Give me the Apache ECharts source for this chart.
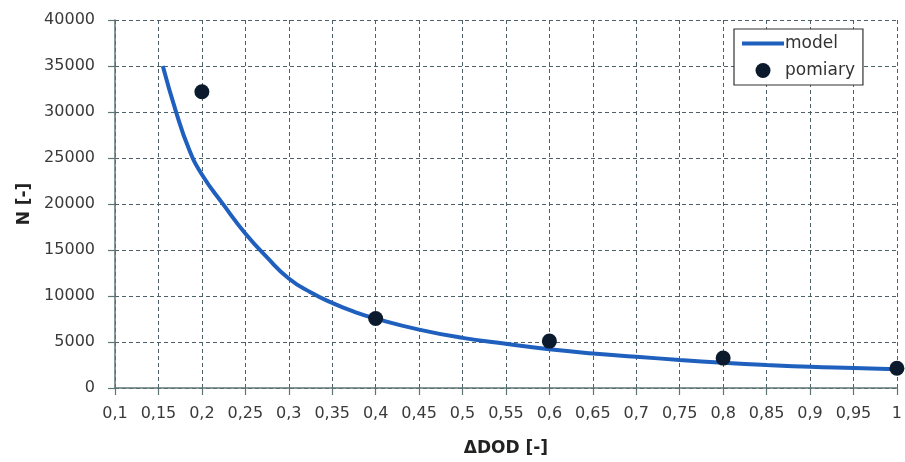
<!DOCTYPE html>
<html>
<head>
<meta charset="utf-8">
<script src="https://cdn.jsdelivr.net/npm/echarts@6/dist/echarts.min.js"></script>
<style>
  html, body { margin: 0; padding: 0; background: #fff; }
  #chart { width: 905px; height: 462px; }
</style>
</head>
<body>
<div id="chart"></div>
<script>
// Model curve (ΔDOD, N)
const modelX = [0.155, 0.17, 0.185, 0.2, 0.225, 0.25, 0.275, 0.3, 0.325, 0.35, 0.375, 0.4, 0.45, 0.5, 0.55, 0.6, 0.65, 0.7, 0.75, 0.8, 0.85, 0.9, 0.95, 1.0];
const modelN = [35000, 30100, 26000, 23200, 19900, 16800, 14200, 11900, 10400, 9250, 8300, 7550, 6350, 5450, 4800, 4200, 3750, 3400, 3050, 2750, 2500, 2300, 2180, 2050];
// Measurements
const measX = [0.2, 0.4, 0.6, 0.8, 1.0];
const measN = [32200, 7550, 5100, 3250, 2150];

const xName = 'ΔDOD [-]';
const yName = 'N [-]';
const seriesNames = ['model', 'pomiary'];

const FONT = 'DejaVu Sans';
const chart = echarts.init(document.getElementById('chart'));
chart.setOption({
  animation: false,
  backgroundColor: '#ffffff',
  textStyle: { fontFamily: FONT },
  grid: { left: 115, right: 8, top: 20, bottom: 74 },
  legend: {
    orient: 'vertical',
    left: 734, top: 29,
    padding: [6, 8, 6, 8],
    itemGap: 10,
    itemWidth: 42, itemHeight: 15,
    borderColor: '#333',
    borderWidth: 1.2,
    backgroundColor: '#fff',
    textStyle: { fontSize: 17, color: '#333', fontFamily: FONT, padding: [0, 0, 0, -4] },
    data: [
      { name: seriesNames[0], icon: 'path://M0,0h42v4h-42z', itemStyle: { color: '#1f5fbd' } },
      { name: seriesNames[1], icon: 'circle' }
    ]
  },
  xAxis: {
    type: 'value',
    min: 0.1, max: 1, interval: 0.05,
    name: xName, nameLocation: 'middle', nameGap: 52,
    nameTextStyle: { fontSize: 17, fontWeight: 'bold', color: '#222', fontFamily: FONT },
    axisLine: { show: true, onZero: false, lineStyle: { color: '#5f7575', width: 1.5 } },
    axisTick: { show: true, length: 7, lineStyle: { color: '#5f7575', width: 1.2 } },
    axisLabel: {
      margin: 18, fontSize: 16, color: '#3a3a3a', fontFamily: FONT,
      formatter: v => String(Number(v.toFixed(2))).replace('.', ',')
    },
    splitLine: { show: true, lineStyle: { color: '#4d6068', type: [4, 3], width: 1 } }
  },
  yAxis: {
    type: 'value',
    min: 0, max: 40000, interval: 5000,
    name: yName, nameLocation: 'middle', nameGap: 75, nameRotate: 90,
    nameTextStyle: { fontSize: 17, fontWeight: 'bold', color: '#222', fontFamily: FONT },
    axisLine: { show: true, lineStyle: { color: '#5f7575', width: 1.5 } },
    axisTick: { show: true, length: 7, lineStyle: { color: '#5f7575', width: 1.2 } },
    axisLabel: { margin: 20, fontSize: 16, color: '#3a3a3a', fontFamily: FONT, formatter: v => String(v) },
    splitLine: { show: true, lineStyle: { color: '#4d6068', type: [4, 3], width: 1 } }
  },
  series: [
    {
      name: seriesNames[0],
      type: 'line',
      smooth: 0.5,
      symbol: 'none',
      showSymbol: false,
      lineStyle: { color: '#1f5fbd', width: 4 },
      itemStyle: { color: '#1f5fbd' },
      data: modelX.map((x, i) => [x, modelN[i]]),
      z: 2
    },
    {
      name: seriesNames[1],
      type: 'scatter',
      symbol: 'circle',
      symbolSize: 15,
      itemStyle: { color: '#0b1a2c', opacity: 1 },
      data: measX.map((x, i) => [x, measN[i]]),
      z: 3
    }
  ]
});
</script>
</body>
</html>
